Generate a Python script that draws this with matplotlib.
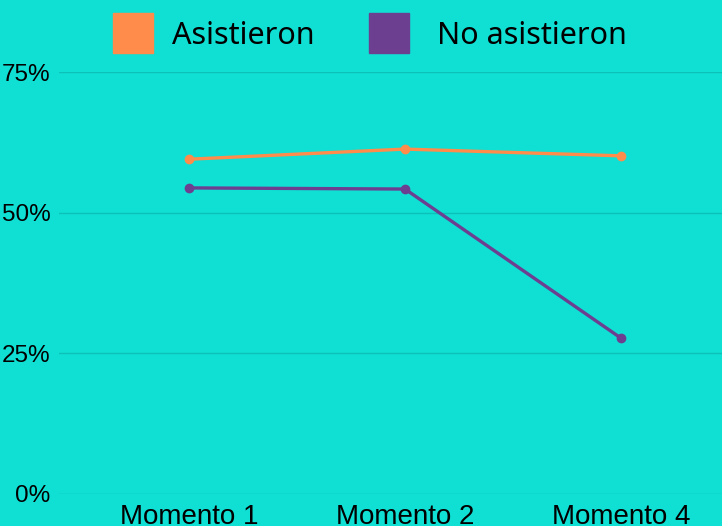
import matplotlib
matplotlib.use("Agg")
import matplotlib.pyplot as plt
from matplotlib.patches import Rectangle

CATEGORIES = ["Momento 1", "Momento 2", "Momento 4"]
ASISTIERON = [59.5, 61.3, 60.1]
NO_ASISTIERON = [54.4, 54.2, 27.7]
Y_TICKS = [0, 25, 50, 75]
Y_LABELS = ["0%", "25%", "50%", "75%"]
SERIES_NAMES = ["Asistieron", "No asistieron"]

BG = "#10dfd3"
ORANGE = "#ff8c4b"
PURPLE = "#6d3f91"
GRID = "#0cc2b8"
TICK_FONT = ["Liberation Sans", "DejaVu Sans"]

W, H = 722, 526
fig = plt.figure(figsize=(W / 100, H / 100), dpi=100)
fig.patch.set_facecolor(BG)

left, right, top, bottom = 59, 722, 72, 494
ax = fig.add_axes([left / W, 1 - bottom / H, (right - left) / W, (bottom - top) / H])
ax.set_facecolor(BG)

x = list(range(len(CATEGORIES)))
ax.plot(x, ASISTIERON, color=ORANGE, lw=2.4, marker="o", ms=6, zorder=3)
ax.plot(x, NO_ASISTIERON, color=PURPLE, lw=2.4, marker="o", ms=6, zorder=3)

ax.set_xlim(-130 / 216, 2 + 101 / 216)
ax.set_ylim(0, 75)
ax.set_yticks(Y_TICKS)
ax.set_yticklabels(Y_LABELS)
ax.set_xticks(x)
ax.set_xticklabels(CATEGORIES)
ax.grid(axis="y", color=GRID, lw=1)
ax.set_axisbelow(True)
for s in ax.spines.values():
    s.set_visible(False)
ax.tick_params(length=0)
ax.tick_params(axis="y", pad=6, labelsize=17.5)
ax.tick_params(axis="x", pad=7, labelsize=20)
for lab in ax.get_xticklabels() + ax.get_yticklabels():
    lab.set_family(TICK_FONT)
    lab.set_color("black")

# legend drawn by hand so the swatches match the reference size
legend = [(113, ORANGE, 172, SERIES_NAMES[0]),
          (369, PURPLE, 437, SERIES_NAMES[1])]
for sx, col, tx, name in legend:
    fig.patches.append(Rectangle((sx / W, 1 - 53 / H), 40 / W, 40 / H,
                                 transform=fig.transFigure, color=col))
    fig.text(tx / W, 1 - 36 / H, name, ha="left", va="center", fontsize=22,
             family=["Noto Sans", "DejaVu Sans"], color="black")

fig.savefig("out.png", dpi=100, facecolor=BG)
